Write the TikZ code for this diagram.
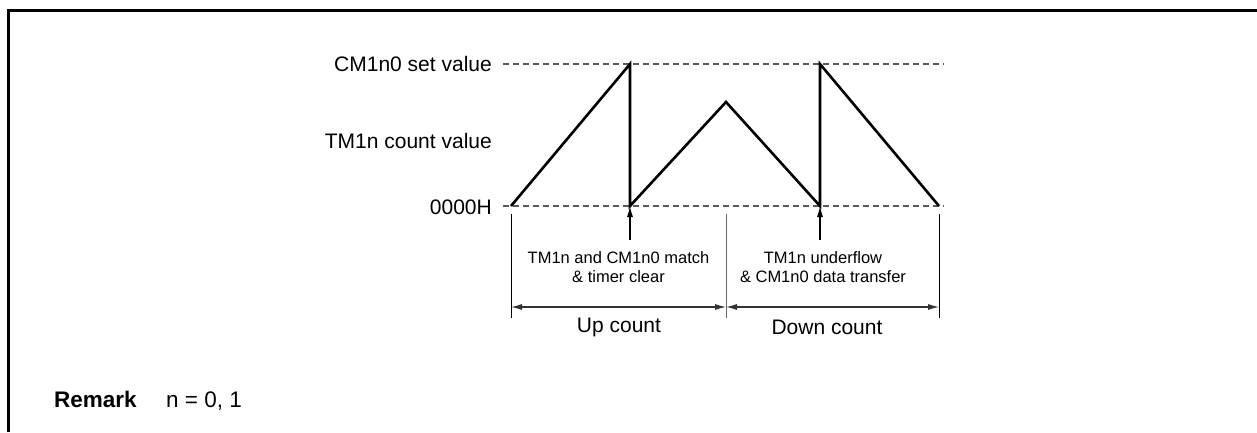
\documentclass[tikz,border=0pt]{standalone}
\usepackage{fontspec}
\setmainfont{Liberation Sans}
\usetikzlibrary{arrows.meta,positioning,calc}

\begin{document}
\begin{tikzpicture}[
  x=1pt, y=-1pt,
  lbl/.style={anchor=east, inner sep=0pt, font=\fontsize{21}{25}\selectfont},
  note/.style={align=center, inner sep=0pt, font=\fontsize{16.5}{19.5}\selectfont},
  cnt/.style={inner sep=0pt, font=\fontsize{21}{25}\selectfont},
  guide/.style={dash pattern=on 6pt off 4pt, black!65, line width=1.4pt},
  wave/.style={line width=2.6pt, line join=miter},
  tk/.style={line width=1pt},
  dimarr/.style={{Latex[length=11pt,width=6pt]}-{Latex[length=11pt,width=6pt]},
                 line width=1.1pt, black!80},
  evarr/.style={-{Latex[length=11pt,width=6pt]}, line width=1.1pt}
]
\useasboundingbox (0,0) rectangle (1257,432);
% frame
\draw[line width=2.6pt] (8.5,432) |- (1257,10.5);

% level labels
\node[lbl] (setv) at (492,64) {CM1n0 set value};
\node[lbl] (cntv) at (492,141) {TM1n count value};
\node[lbl] (zero) at (492,207) {0000H};

% guide lines
\coordinate (g1) at (503,64);  \coordinate (g2) at (944,64);
\coordinate (g3) at (503,206); \coordinate (g4) at (944,206);
\draw[guide] (g1) -- (g2);
\draw[guide] (g3) -- (g4);

% count waveform
\coordinate (w0) at (511,206);
\coordinate (w1) at (630,64);
\coordinate (w2) at (630,206);
\coordinate (w3) at (726,102);
\coordinate (w4) at (820,206);
\coordinate (w5) at (820,64);
\coordinate (w6) at (939,206);
\draw[wave] (w0) -- (w1) -- (w2) -- (w3) -- (w4) -- (w5) -- (w6);

% interval ticks
\foreach \x/\n in {511/a,726/b,939/c} {
  \coordinate (t\n) at (\x,214);
  \coordinate (b\n) at (\x,318);
  \coordinate (d\n) at (\x,307);
}
\draw[tk] (ta) -- (ba);
\draw[tk, black!60] (tb) -- (bb);
\draw[tk] (tc) -- (bc);
\draw[dimarr] (da) -- (db);
\draw[dimarr] (db) -- (dc);

% events
\coordinate (e1) at (630,240);
\coordinate (e2) at (820,240);
\draw[evarr] (e1) -- (w2);
\draw[evarr] (e2) -- (w4);
\node[note] (match) at (618.5,267) {TM1n and CM1n0 match\\\& timer clear};
\node[note] (uflow) at (823,267) {TM1n underflow\\\& CM1n0 data transfer};

\node[cnt] (up) at (619,327) {Up count};
\node[cnt] (down) at (827,327) {Down count};

% remark
\node[anchor=base west, inner sep=0pt, font=\bfseries\fontsize{22.5}{26}\selectfont]
  (rmk) at (54,407) {Remark};
\node[anchor=base west, inner sep=0pt, font=\fontsize{22.5}{26}\selectfont]
  (rmkn) at (166,407) {n = 0, 1};
\end{tikzpicture}
\end{document}
